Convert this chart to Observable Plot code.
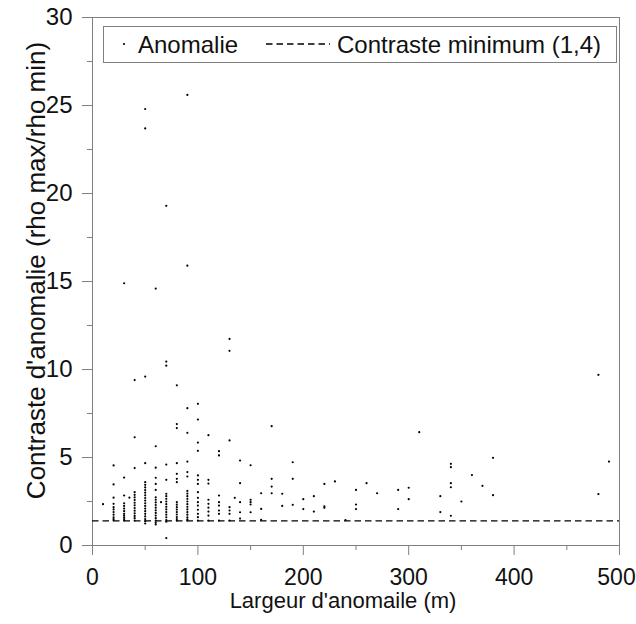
<!DOCTYPE html>
<html>
<head>
<meta charset="utf-8">
<script src="https://cdn.jsdelivr.net/npm/d3@7"></script>
<script src="https://cdn.jsdelivr.net/npm/@observablehq/plot@0.6"></script>
<style>
  html, body { margin: 0; padding: 0; background: #fff; }
  #wrap { position: relative; width: 636px; height: 624px; font-family: "Liberation Sans", Arial, sans-serif; }
  #legend { position: absolute; left: 103px; top: 26px; width: 514px; height: 37px; border: 1px solid #808080; background: #fff; box-sizing: border-box; font-size: 24px; color: #111; }
  #legend > * { position: absolute; }
  #legend span { top: 50%; transform: translateY(-50%); line-height: 1; white-space: nowrap; }
</style>
</head>
<body>
<div id="wrap"></div>
<script>
// Largeur d'anomalie (m) columns and the contrast values read for each
const largeurs = [10, 20, 30, 35, 40, 50, 60, 65, 70, 80, 90, 100, 110, 120, 130, 135, 140, 150, 160, 170, 180, 190, 200, 210, 220, 230, 240, 250, 260, 270, 290, 300, 310, 330, 340, 350, 360, 370, 380, 480, 490];
const contrastes = [
  [2.35],
  [4.55, 3.47, 2.72, 2.37, 2.18, 2.05, 1.9, 1.75, 1.6, 1.5, 1.43],
  [14.9, 3.86, 2.84, 2.4, 2.25, 2.1, 1.95, 1.8, 1.7, 1.6, 1.5, 1.42],
  [2.72],
  [9.4, 6.15, 4.4, 3.03, 2.88, 2.73, 2.58, 2.43, 2.28, 2.13, 1.98, 1.83, 1.68, 1.55, 1.42],
  [24.8, 23.7, 9.6, 4.68, 3.6, 3.45, 3.3, 3.15, 3.0, 2.85, 2.7, 2.55, 2.4, 2.25, 2.1, 1.95, 1.8, 1.65, 1.5, 1.38, 1.25],
  [14.6, 5.64, 4.42, 3.85, 3.5, 3.16, 2.74, 2.6, 2.45, 2.3, 2.15, 2.0, 1.85, 1.7, 1.55, 1.42, 1.3, 1.2],
  [2.46],
  [19.3, 10.45, 10.22, 4.6, 3.73, 2.94, 2.8, 2.65, 2.5, 2.35, 2.2, 2.05, 1.9, 1.75, 1.6, 1.45, 1.35, 0.42],
  [9.1, 6.9, 6.67, 4.68, 4.07, 3.79, 3.6, 2.46, 2.32, 2.18, 2.04, 1.9, 1.76, 1.62, 1.5, 1.42],
  [25.6, 15.9, 7.8, 6.4, 4.77, 4.17, 3.92, 3.1, 2.95, 2.8, 2.65, 2.5, 2.35, 2.2, 2.05, 1.9, 1.75, 1.6, 1.48, 1.42],
  [8.05, 7.16, 5.85, 5.38, 3.98, 3.73, 3.5, 3.03, 2.71, 2.46, 2.27, 2.03, 1.8, 1.61, 1.42],
  [6.27, 3.73, 3.52, 2.6, 2.37, 2.15, 1.93, 1.7, 1.42],
  [5.36, 5.12, 2.84, 2.46, 2.27, 1.99, 1.8, 1.42],
  [11.74, 11.06, 5.97, 2.18, 1.99, 1.8, 1.42],
  [2.71],
  [4.83, 3.54, 2.46, 1.89, 1.53],
  [4.56, 2.6, 2.46, 2.33, 1.89],
  [2.97, 2.08, 1.46],
  [6.78, 3.79, 3.35, 2.97],
  [2.94, 2.25],
  [4.73, 3.79, 2.31],
  [2.63, 2.07],
  [2.8, 1.93],
  [3.5, 2.22, 2.14],
  [3.64],
  [1.45],
  [3.16, 2.33, 2.07],
  [3.54],
  [2.97],
  [3.16, 2.07],
  [3.28, 2.63],
  [6.44],
  [2.8, 1.9],
  [4.64, 4.45, 3.54, 3.31, 1.69],
  [2.5],
  [4.0],
  [3.39],
  [4.98, 2.86],
  [9.7, 2.92],
  [4.77]
];
const contrasteMinimum = 1.4;
const xMajorTicks = [0, 100, 200, 300, 400, 500];
const xLastTick = [500];
const xMinorTicks = [50, 150, 250, 350, 450];
const yMajorTicks = [0, 5, 10, 15, 20, 25, 30];
const yMinorTicks = [2.5, 7.5, 12.5, 17.5, 22.5, 27.5];
const xTitle = "Largeur d'anomaile (m)";
const yTitle = "Contraste d'anomalie (rho max/rho min)";
const legendLabels = ["Anomalie", "Contraste minimum (1,4)"];

const points = largeurs.flatMap((x, i) => contrastes[i].map(y => ({x, y})));
const axisGray = "#808080";

const chart = Plot.plot({
  width: 636,
  height: 624,
  marginLeft: 92,
  marginRight: 17,
  marginTop: 17,
  marginBottom: 79,
  x: {domain: [0, 500]},
  y: {domain: [0, 30]},
  style: {fontFamily: "'Liberation Sans', Arial, sans-serif", fontSize: "24px", color: "#111", background: "#fff", overflow: "visible"},
  marks: [
    Plot.frame({stroke: axisGray}),
    Plot.ruleY([contrasteMinimum], {stroke: "#000", strokeWidth: 1.3, strokeDasharray: "6.5,4"}),
    Plot.dot(points, {x: "x", y: "y", r: 1.1, fill: "#000", stroke: null}),
    Plot.axisX({ticks: xMajorTicks, tickSize: 10, tickPadding: 13, stroke: axisGray, fill: "#111", label: null, fontSize: 23,
      tickFormat: d => xLastTick.includes(d) ? "" : String(d)}),
    Plot.axisX({ticks: xLastTick, tickSize: 0, tickPadding: 23, dx: -3, fill: "#111", label: null, fontSize: 23}),
    Plot.axisX({ticks: xMinorTicks, tickSize: 5, tickFormat: () => "", stroke: axisGray, label: null}),
    Plot.axisY({ticks: yMajorTicks, tickSize: 10, tickPadding: 10, stroke: axisGray, fill: "#111", label: null, fontSize: 24}),
    Plot.axisY({ticks: yMinorTicks, tickSize: 5, tickFormat: () => "", stroke: axisGray, label: null}),
    Plot.text([xTitle], {frameAnchor: "bottom", dy: 62, dx: -13, fontSize: 22, fill: "#111"}),
    Plot.text([yTitle], {frameAnchor: "left", textAnchor: "middle", dx: -56, dy: -11, rotate: -90, fontSize: 26, fill: "#111"})
  ]
});

const wrap = document.getElementById("wrap");
wrap.appendChild(chart);

const legend = document.createElement("div");
legend.id = "legend";
legend.innerHTML = `
  <svg width="6" height="6" style="left:17px; top:14px"><circle cx="3" cy="3" r="1.1" fill="#000"/></svg>
  <span style="left:34px">${legendLabels[0]}</span>
  <svg width="64" height="6" style="left:162px; top:14px"><line x1="0" x2="64" y1="3" y2="3" stroke="#000" stroke-width="1.3" stroke-dasharray="6.5,4"/></svg>
  <span style="left:233px">${legendLabels[1]}</span>`;
wrap.appendChild(legend);
</script>
</body>
</html>
